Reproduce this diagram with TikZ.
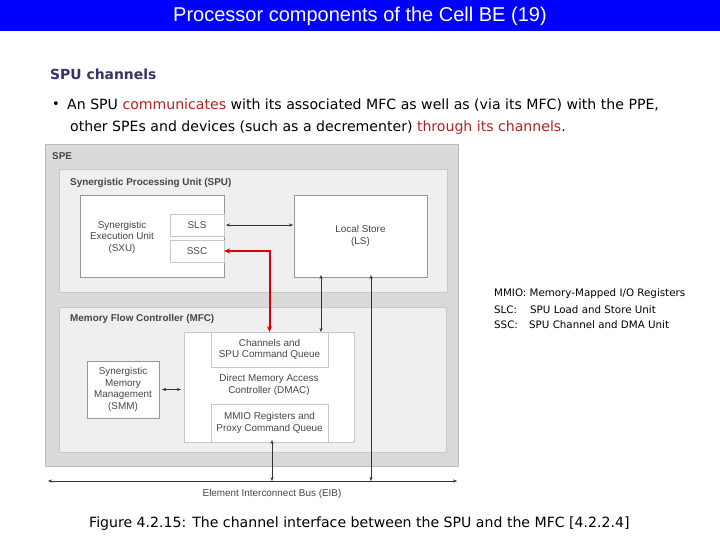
\documentclass[tikz,border=0pt]{standalone}
\usepackage{fontspec}
\setmainfont{DejaVu Sans}
\newfontfamily\arialf{Liberation Sans}
\usetikzlibrary{arrows.meta}
\definecolor{titleblue}{RGB}{0,0,255}
\definecolor{navy}{RGB}{51,51,102}
\definecolor{dred}{RGB}{178,34,34}
\definecolor{spefill}{RGB}{218,218,218}
\definecolor{unitfill}{RGB}{239,239,239}
\definecolor{boxline}{RGB}{150,150,150}
\definecolor{lightline}{RGB}{200,200,200}
\definecolor{dtext}{RGB}{70,70,70}
\definecolor{redarrow}{RGB}{220,0,0}
\tikzset{
  box/.style={draw=boxline, line width=0.6pt, inner sep=0pt, outer sep=0pt},
  wbox/.style={box, fill=white},
  subbox/.style={draw=lightline, line width=0.6pt, fill=white, inner sep=0pt, outer sep=0pt},
  dlabel/.style={font=\arialf\fontsize{9.9}{11.5}\selectfont, text=dtext, align=center, inner sep=0pt},
  blabel/.style={font=\arialf\bfseries\fontsize{9.9}{11.5}\selectfont, text=dtext, anchor=west, inner sep=0pt},
  conn/.style={draw=black!80, line width=0.5pt, {Stealth[length=4pt,width=3pt]}-{Stealth[length=4pt,width=3pt]}},
  txt/.style={anchor=west, inner sep=0pt},
}
\begin{document}
\begin{tikzpicture}[x=1pt,y=-1pt]
\useasboundingbox (0,0) rectangle (720,540);
\fill[white] (0,0) rectangle (720,540);
% title bar
\fill[titleblue] (0,0) rectangle (720,31);
\node[font=\arialf\fontsize{20}{22}\selectfont, text=white, inner sep=0pt] (title) at (360,16) {Processor components of the Cell BE (19)};
% heading and bullet
\node[txt, font=\bfseries\fontsize{13.9}{16}\selectfont, text=navy] (head) at (50,74) {SPU channels};
\node[inner sep=0pt, font=\fontsize{13}{15}\selectfont] (bul) at (56,105) {•};
\node[txt, font=\fontsize{14.1}{16}\selectfont] (line1) at (67,105) {An SPU \textcolor{dred}{communicates} with its associated MFC as well as (via its MFC) with the PPE,};
\node[txt, font=\fontsize{14.1}{16}\selectfont] (line2) at (70,128) {other SPEs and devices (such as a decrementer) \textcolor{dred}{through its channels}.};
% diagram
\node[box, draw=spefill!85!black, fill=spefill, minimum width=413, minimum height=322] (spe) at (251.5,305) {};
\node[blabel] (spel) at (52,156) {SPE};
\node[box, draw=lightline, fill=unitfill, minimum width=388, minimum height=123] (spu) at (253,230.5) {};
\node[blabel] (spul) at (70,183) {Synergistic Processing Unit (SPU)};
\node[wbox, minimum width=144, minimum height=82] (sxu) at (152,236) {};
\node[dlabel] (sxul) at (122,237) {Synergistic\\Execution Unit\\(SXU)};
\node[subbox, minimum width=54, minimum height=22] (sls) at (197,225) {};
\node[dlabel] at (sls) {SLS};
\node[subbox, minimum width=54, minimum height=22] (ssc) at (197,251) {};
\node[dlabel] at (ssc) {SSC};
\node[wbox, minimum width=133, minimum height=82] (ls) at (360.5,236) {};
\node[dlabel] (lsl) at (ls) {Local Store\\(LS)};
\node[box, draw=lightline, fill=unitfill, minimum width=387, minimum height=145] (mfc) at (252.5,379.5) {};
\node[blabel] (mfcl) at (70,319) {Memory Flow Controller (MFC)};
\node[wbox, draw=lightline, minimum width=170, minimum height=110] (dmac) at (269,387) {};
\node[dlabel] (dmacl) at (269,385) {Direct Memory Access\\Controller (DMAC)};
\node[subbox, minimum width=117, minimum height=35] (chan) at (269.5,349.5) {};
\node[dlabel] (chanl) at (chan) {Channels and\\SPU Command Queue};
\node[subbox, minimum width=117, minimum height=38] (mmio) at (269.5,423) {};
\node[dlabel] (mmiol) at (mmio) {MMIO Registers and\\Proxy Command Queue};
\node[wbox, minimum width=72, minimum height=57] (smm) at (123,389.5) {};
\node[dlabel] (smml) at (smm) {Synergistic\\Memory\\Management\\(SMM)};
% EIB
\coordinate (eibL) at (48,481);
\coordinate (eibR) at (457,481);
\draw[conn] (eibL) -- (eibR);
\node[dlabel] (eibl) at (272,494) {Element Interconnect Bus (EIB)};
% connectors
\coordinate (a1) at (321,0);
\coordinate (a2) at (371,0);
\coordinate (a3) at (272,0);
\draw[conn] ([xshift=2pt]sls.east) -- ([xshift=-1pt]ls.west |- sls.east);
\draw[conn] ([yshift=2pt]ls.south -| a1) -- (chan.north -| a1);
\draw[conn] ([yshift=2pt]ls.south -| a2) -- (eibL -| a2);
\draw[conn] ([yshift=2pt]mmio.south -| a3) -- (eibL -| a3);
\draw[conn] ([xshift=3pt]smm.east) -- ([xshift=-3pt]dmac.west |- smm.east);
\draw[redarrow, line width=2pt, {Stealth[length=6pt,width=5pt]}-{Stealth[length=6pt,width=5pt]}] (ssc.east) -| (chan.north);
% legend
\node[txt, font=\fontsize{10.3}{12}\selectfont] (lg1) at (494,294) {MMIO: Memory-Mapped I/O Registers};
\node[txt, font=\fontsize{10.3}{12}\selectfont] (lg2) at (494,310) {SLC:};
\node[txt, font=\fontsize{10.3}{12}\selectfont] (lg2b) at (530,310) {SPU Load and Store Unit};
\node[txt, font=\fontsize{10.3}{12}\selectfont] (lg3) at (494,325) {SSC:};
\node[txt, font=\fontsize{10.3}{12}\selectfont] (lg3b) at (529,325) {SPU Channel and DMA Unit};
% caption
\node[txt, font=\fontsize{14.1}{16}\selectfont] (cap) at (89,524) {Figure 4.2.15: The channel interface between the SPU and the MFC [4.2.2.4]};
\end{tikzpicture}
\end{document}
